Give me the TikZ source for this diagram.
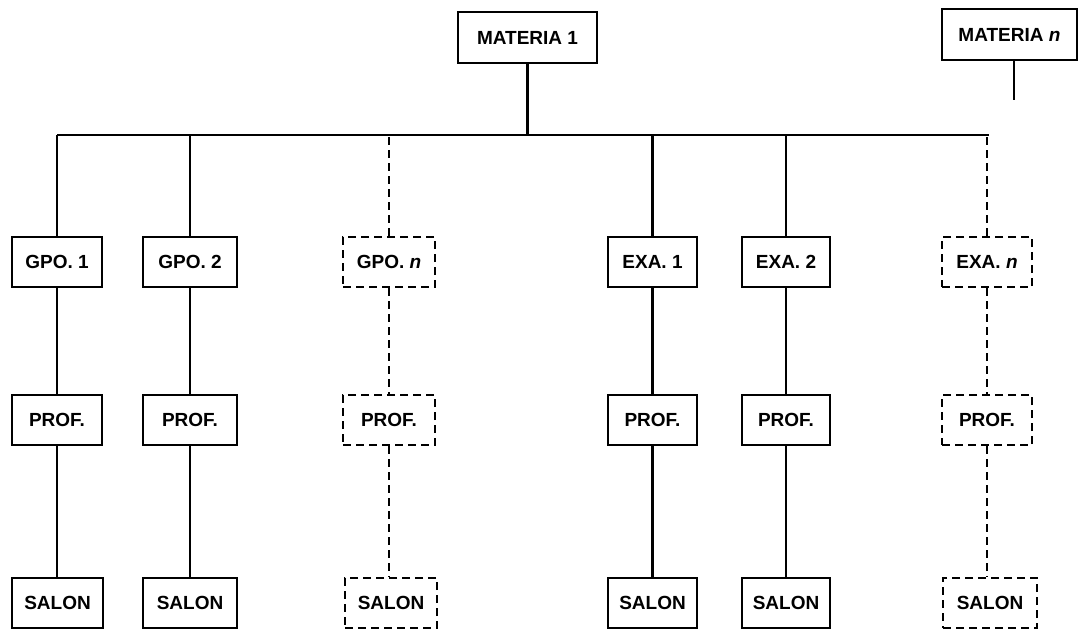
\documentclass[tikz,border=0pt]{standalone}
\usepackage{fontspec}
\setmainfont{Liberation Sans}
\begin{document}
\begin{tikzpicture}[x=1pt,y=-1pt,
  box/.style={draw,line width=2.2pt,inner sep=0pt,minimum height=50pt,
    font=\fontsize{19}{22}\selectfont\bfseries},
  dbox/.style={box,dash pattern=on 8pt off 5pt},
  link/.style={line width=2.4pt},
  dlink/.style={link,dash pattern=on 8pt off 5pt}]
\useasboundingbox (0,0) rectangle (1079,629);
% top nodes
\node[box,minimum width=139pt,minimum height=51pt] (m1) at (527.5,37.5) {MATERIA 1};
\node[box,minimum width=135pt,minimum height=51pt] (mn) at (1009.5,34.5) {MATERIA \textit{n}};
\coordinate (mnEnd) at (1014,100);
% second row
\node[box,minimum width=90pt] (g1) at (57,262) {GPO. 1};
\node[box,minimum width=94pt] (g2) at (190,262) {GPO. 2};
\node[dbox,minimum width=92pt] (gn) at (389,262) {GPO. \textit{n}};
\node[box,minimum width=89pt] (e1) at (652.5,262) {EXA. 1};
\node[box,minimum width=88pt] (e2) at (786,262) {EXA. 2};
\node[dbox,minimum width=90pt] (en) at (987,262) {EXA. \textit{n}};
% third row
\node[box,minimum width=90pt] (p1) at (57,420) {PROF.};
\node[box,minimum width=94pt] (p2) at (190,420) {PROF.};
\node[dbox,minimum width=92pt] (pn) at (389,420) {PROF.};
\node[box,minimum width=89pt] (p3) at (652.5,420) {PROF.};
\node[box,minimum width=88pt] (p4) at (786,420) {PROF.};
\node[dbox,minimum width=90pt] (p5) at (987,420) {PROF.};
% fourth row
\node[box,minimum width=91pt] (s1) at (57.5,603) {SALON};
\node[box,minimum width=94pt] (s2) at (190,603) {SALON};
\node[dbox,minimum width=92pt] (sn) at (391,603) {SALON};
\node[box,minimum width=89pt] (s3) at (652.5,603) {SALON};
\node[box,minimum width=88pt] (s4) at (786,603) {SALON};
\node[dbox,minimum width=94pt] (s5) at (990,603) {SALON};
% bus
\coordinate (busL) at (57,135);
\coordinate (busR) at (989,135);
\draw[link] (busL) -- (busR);
\draw[link] (m1.south) -- (m1.south |- busL);
\draw[link] (mnEnd |- mn.south) -- (mnEnd);
\draw[link] (g1.north) -- (g1.north |- busL);
\draw[link] (g2.north) -- (g2.north |- busL);
\draw[dlink] (gn.north) -- (gn.north |- busL);
\draw[link] (e1.north) -- (e1.north |- busL);
\draw[link] (e2.north) -- (e2.north |- busL);
\draw[dlink] (en.north) -- (en.north |- busL);
% verticals
\draw[link] (g1) -- (p1);
\draw[link] (g2) -- (p2);
\draw[dlink] (gn) -- (pn);
\draw[link] (e1) -- (p3);
\draw[link] (e2) -- (p4);
\draw[dlink] (en) -- (p5);
\draw[link] (p1.south) -- (p1.south |- s1.north);
\draw[link] (p2.south) -- (p2.south |- s2.north);
\draw[dlink] (pn.south) -- (pn.south |- sn.north);
\draw[link] (p3.south) -- (p3.south |- s3.north);
\draw[link] (p4.south) -- (p4.south |- s4.north);
\draw[dlink] (p5.south) -- (p5.south |- s5.north);
\end{tikzpicture}
\end{document}
